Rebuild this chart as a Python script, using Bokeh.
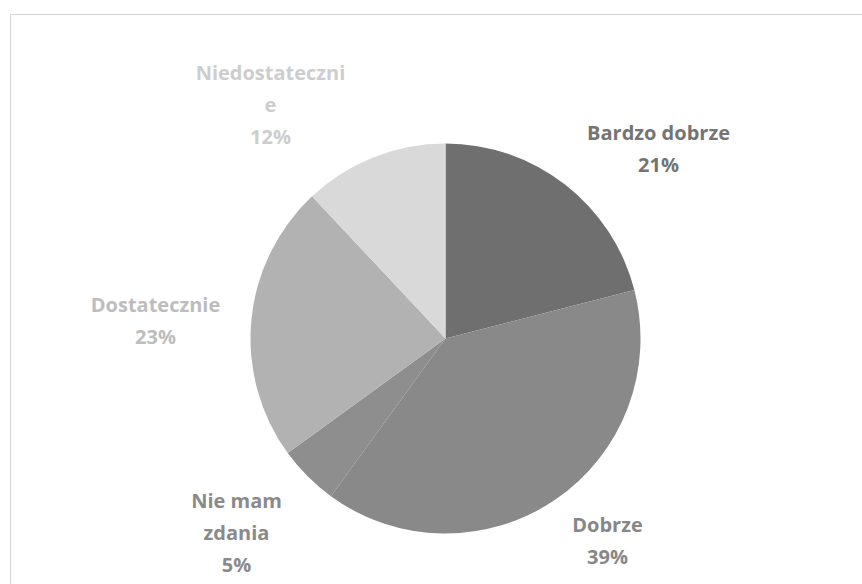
import math
from bokeh.plotting import figure
from bokeh.models import Range1d, ColumnDataSource
from bokeh.core.properties import value
from bokeh.embed import file_html
from bokeh.resources import INLINE

# ---- data ----
categories = ["Bardzo dobrze", "Dobrze", "Nie mam zdania", "Dostatecznie", "Niedostateczne"]
label_texts = ["Bardzo dobrze", "Dobrze", "Nie mam\nzdania", "Dostatecznie", "Niedostateczni\ne"]
shares = [21, 39, 5, 23, 12]

# ---- style ----
slice_colors = ["#6f6f6f", "#898989", "#8e8e8e", "#b2b2b2", "#d9d9d9"]
text_colors = ["#747474", "#878787", "#8a8a8a", "#bdbdbd", "#cdcdcd"]
# label anchor offsets from pie centre (pixels, y up)
label_offsets = [(213, 190), (162, -202), (-209, -194), (-290, 18), (-175, 234)]

W, H = 862, 584
p = figure(width=W, height=H, output_backend="svg", toolbar_location=None,
           x_range=Range1d(0, W), y_range=Range1d(0, H),
           min_border=0, outline_line_color=None)
p.axis.visible = False
p.grid.visible = False
p.background_fill_color = "#ffffff"
p.border_fill_color = "#ffffff"

# chart area border (light grey)
p.quad(left=[10], right=[W + 40], top=[H - 14], bottom=[-40],
       fill_color=None, line_color="#d4d4d4", line_width=1)

cx, cy, r = 445, 246, 195
total = sum(shares)
starts, ends, lx, ly, texts = [], [], [], [], []
acc = 0.0
for i, s in enumerate(shares):
    a0 = math.pi / 2 - 2 * math.pi * acc / total
    acc += s
    a1 = math.pi / 2 - 2 * math.pi * acc / total
    starts.append(a1)
    ends.append(a0)
    dx, dy = label_offsets[i]
    lx.append(cx + dx)
    ly.append(cy + dy)
    texts.append(f"{label_texts[i]}\n{s}%")

src = ColumnDataSource(dict(start=starts, end=ends, color=slice_colors,
                            cat=categories, lx=lx, ly=ly, t=texts, tc=text_colors))
p.wedge(x=cx, y=cy, radius=r, start_angle="start", end_angle="end",
        fill_color="color", line_color=None, source=src)
p.text(x="lx", y="ly", text="t", source=src, text_color="tc",
       text_font=value("Open Sans"), text_font_style="bold", text_font_size="20px",
       text_align="center", text_baseline="middle", text_line_height=1.17)

open("out.html", "w").write(file_html(p, INLINE))
